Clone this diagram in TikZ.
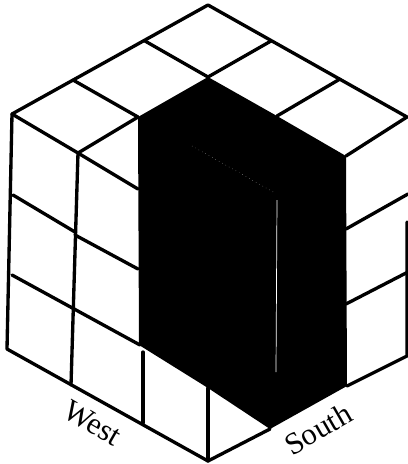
\documentclass[tikz,border=0pt]{standalone}
\usepackage{fontspec}
\setmainfont{Liberation Serif}
\tikzset{
  edge/.style={line width=1.9pt,line join=round,line cap=round},
  sidelabel/.style={font=\fontsize{17.5}{20}\selectfont,inner sep=0pt}
}
\begin{document}
\begin{tikzpicture}[x=0.02cm,y=-0.02cm]
    \useasboundingbox (0,0) rectangle (408,464);

    % Black slice cut out of the cube
    \fill[black] (208,77) -- (277,116) -- (346,156) -- (347,386) -- (270,429)
        -- (208,388) -- (139,345) -- (138,117) -- cycle;

    % Top face
    \draw[edge] (12,114) -- (208,5) -- (407,117) -- (346,156);
    \draw[edge] (12,114) -- (78,153) -- (138,117);
    \draw[edge] (73,80) -- (138,117);
    \draw[edge] (145,41) -- (208,77) -- (271,41);
    \draw[edge] (340,79) -- (277,116);

    % West face
    \draw[edge] (12,114) -- (7,349) -- (208,461);
    \draw[edge] (78,153) -- (71,385);
    \draw[edge] (143,352) -- (143,423);
    \draw[edge] (208,388) -- (208,461);
    \draw[edge] (78,153) -- (138,189);
    \draw[edge] (13,195) -- (75,232);
    \draw[edge] (75,235) -- (138,269);
    \draw[edge] (12,275) -- (140,345);

    % South face
    \draw[edge] (208,461) -- (270,429);
    \draw[edge] (347,386) -- (407,356) -- (407,222);
    \draw[edge] (346,229) -- (408,194);
    \draw[edge] (346,304) -- (408,272);

    % Faint white lines inside the slice
    \draw[white,line width=0.2pt,dotted] (192,146) -- (275,193);
    \draw[white,line width=0.4pt] (277,200) -- (276,372);

    % Side labels
    \node[sidelabel,rotate=-30] (west) at (93,423) {West};
    \node[sidelabel,rotate=30] (south) at (318,429) {South};
\end{tikzpicture}
\end{document}
